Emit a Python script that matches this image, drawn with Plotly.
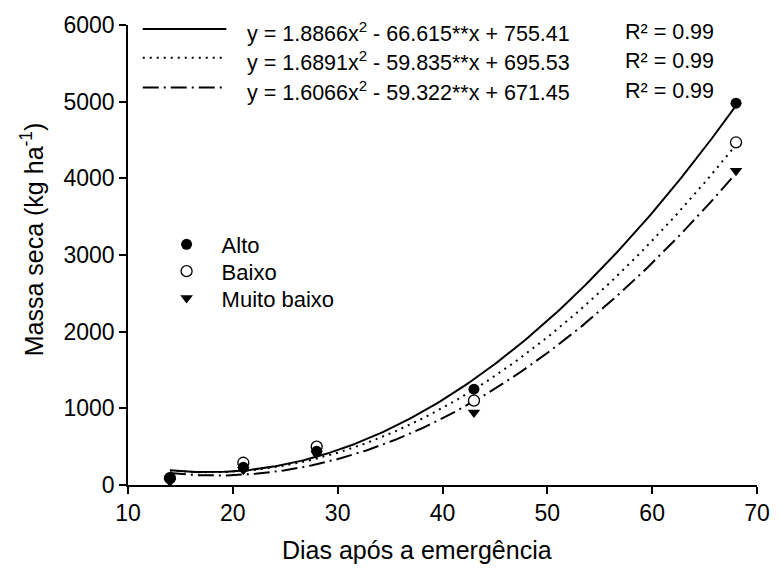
import numpy as np
import plotly.graph_objects as go

# ---- data ----
dias = [14, 21, 28, 43, 68]
alto = [90, 230, 440, 1250, 4980]
baixo = [90, 290, 500, 1100, 4470]
muito_baixo = [45, 200, 410, 945, 4100]

# regression coefficients (a, b, c) for y = a x^2 + b x + c
coef_alto = [1.8866, -66.615, 755.41]
coef_baixo = [1.6891, -59.835, 695.53]
coef_muito = [1.6066, -59.322, 671.45]

eq_labels = [
    "y = 1.8866x<sup>2</sup> - 66.615**x + 755.41",
    "y = 1.6891x<sup>2</sup> - 59.835**x + 695.53",
    "y = 1.6066x<sup>2</sup> - 59.322**x + 671.45",
]
r2_labels = ["R² = 0.99", "R² = 0.99", "R² = 0.99"]

x_ticks = [10, 20, 30, 40, 50, 60, 70]
y_ticks = [0, 1000, 2000, 3000, 4000, 5000, 6000]

FONT = "Arial, 'Liberation Sans', sans-serif"

xs = np.linspace(min(dias), max(dias), 200)


def curve(c):
    return c[0] * xs ** 2 + c[1] * xs + c[2]


W, H = 640.0, 463.0
def px_x(px):
    return (px - 128) / W
def px_y(py):
    return (485 - py) / H


fig = go.Figure()

DOT = "2px,5px"
DASHDOT = "16px,5px,2px,5px"
line_styles = [(coef_alto, "solid"), (coef_baixo, DOT), (coef_muito, DASHDOT)]
for c, dash in line_styles:
    fig.add_trace(go.Scatter(x=xs, y=curve(c), mode="lines",
                             line=dict(color="black", width=2, dash=dash),
                             showlegend=False, hoverinfo="skip"))

fig.add_trace(go.Scatter(x=dias, y=baixo, mode="markers", name="Baixo", legend="legend2",
                         marker=dict(symbol="circle", size=11, color="white",
                                     line=dict(color="black", width=1.3))))
fig.add_trace(go.Scatter(x=dias, y=alto, mode="markers", name="Alto", legend="legend",
                         marker=dict(symbol="circle", size=11, color="black",
                                     line=dict(color="black", width=0))))
fig.add_trace(go.Scatter(x=dias, y=muito_baixo, mode="markers", name="Muito baixo",
                         legend="legend3",
                         marker=dict(symbol="triangle-down", size=11, color="black",
                                     line=dict(color="black", width=0))))

# equation legend (top)
rows_y = [26, 55, 85]
dashes = ["solid", DOT, DASHDOT]
for ry, d, eq, r2 in zip(rows_y, dashes, eq_labels, r2_labels):
    fig.add_shape(type="line", xref="paper", yref="paper",
                  x0=px_x(143), x1=px_x(228), y0=px_y(ry), y1=px_y(ry),
                  line=dict(color="black", width=2, dash=d))
    fig.add_annotation(xref="paper", yref="paper", x=px_x(247), y=px_y(ry + 3),
                       text=eq, showarrow=False, xanchor="left", yanchor="middle",
                       font=dict(family=FONT, size=21.5, color="black"))
    fig.add_annotation(xref="paper", yref="paper", x=px_x(632), y=px_y(ry + 3),
                       text=r2, showarrow=False, xanchor="left", yanchor="middle",
                       font=dict(family=FONT, size=21.5, color="black"))

# axis titles
fig.add_annotation(xref="paper", yref="paper", x=px_x(422), y=px_y(550),
                   text="Dias após a emergência", showarrow=False,
                   xanchor="center", yanchor="middle",
                   font=dict(family=FONT, size=25, color="black"))
fig.add_annotation(xref="paper", yref="paper", x=px_x(30), y=px_y(238),
                   text="Massa seca (kg ha<sup>-1</sup>)", showarrow=False, textangle=-90,
                   xanchor="center", yanchor="middle",
                   font=dict(family=FONT, size=25, color="black"))

axis_common = dict(showline=True, linecolor="black", linewidth=1.5, ticks="outside",
                   ticklen=7, tickwidth=1.5, tickcolor="black", showgrid=False,
                   zeroline=False, mirror=False,
                   tickfont=dict(family=FONT, size=23, color="black"))

fig.update_xaxes(range=[10, 70], tickvals=x_ticks, **axis_common)
fig.update_yaxes(range=[0, 6000], tickvals=y_ticks, **axis_common)

leg_common = dict(xanchor="left", yanchor="middle", bgcolor="rgba(0,0,0,0)", itemwidth=60,
                  font=dict(family=FONT, size=22, color="black"))
fig.update_layout(
    width=782, height=571,
    margin=dict(l=128, r=14, t=22, b=86, pad=0),
    plot_bgcolor="white", paper_bgcolor="white",
    showlegend=True,
    legend=dict(x=px_x(152), y=px_y(243), **leg_common),
    legend2=dict(x=px_x(152), y=px_y(270), **leg_common),
    legend3=dict(x=px_x(152), y=px_y(297), **leg_common),
)

fig.write_html("out.html")
